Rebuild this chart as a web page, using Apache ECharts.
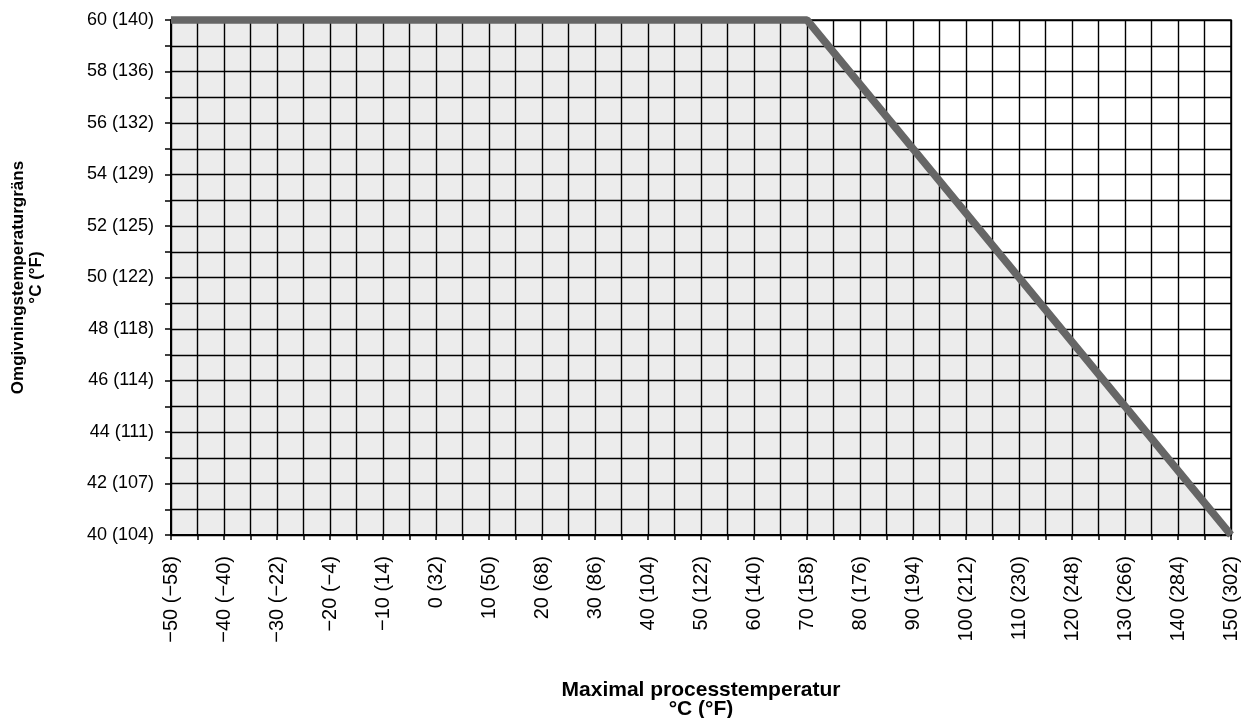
<!DOCTYPE html>
<html>
<head>
<meta charset="utf-8">
<script src="https://cdn.jsdelivr.net/npm/echarts@6/dist/echarts.min.js"></script>
<style>
html,body{margin:0;padding:0;background:#fff;}
#chart{width:1248px;height:718px;}
</style>
</head>
<body>
<div id="chart"></div>
<script>
// Data
const linePoints = [[-50, 60], [70, 60], [150, 40]];
const xLabelsC = [-50, -40, -30, -20, -10, 0, 10, 20, 30, 40, 50, 60, 70, 80, 90, 100, 110, 120, 130, 140, 150];
const xLabelsF = [-58, -40, -22, -4, 14, 32, 50, 68, 86, 104, 122, 140, 158, 176, 194, 212, 230, 248, 266, 284, 302];
const yLabelsC = [40, 42, 44, 46, 48, 50, 52, 54, 56, 58, 60];
const yLabelsF = [104, 107, 111, 114, 118, 122, 125, 129, 132, 136, 140];
const xTitle = 'Maximal processtemperatur\n°C (°F)';
const yTitle = 'Omgivningstemperaturgräns\n°C (°F)';

const fmt = n => String(n).replace('-', '\u2212');
const FONT = '"Liberation Sans", Arial, Helvetica, sans-serif';

const chart = echarts.init(document.getElementById('chart'), null, {renderer: 'canvas'});
chart.setOption({
  animation: false,
  backgroundColor: '#fff',
  grid: {
    left: 171, right: 17, top: 20, bottom: 183,
    outerBoundsMode: 'none', containLabel: false,
    show: true, borderColor: '#000', borderWidth: 1.5, backgroundColor: 'transparent'
  },
  xAxis: {
    type: 'value', min: -50, max: 150, interval: 5,
    name: xTitle, nameLocation: 'middle', nameGap: 146,
    nameTextStyle: {fontFamily: FONT, fontWeight: 'bold', fontSize: 21, color: '#000', lineHeight: 19},
    axisLine: {show: true, onZero: false, lineStyle: {color: '#000', width: 2}},
    axisTick: {show: true, length: 5, lineStyle: {color: '#000', width: 1.5}},
    splitLine: {show: true, lineStyle: {color: '#000', width: 1.4}},
    axisLabel: {
      rotate: 90, margin: 21, fontFamily: FONT, fontSize: 20, color: '#000',
      formatter: v => { const i = xLabelsC.indexOf(v); return i < 0 ? '' : fmt(xLabelsC[i]) + ' (' + fmt(xLabelsF[i]) + ')'; }
    }
  },
  yAxis: {
    type: 'value', min: 40, max: 60, interval: 1,
    name: yTitle, nameLocation: 'middle', nameGap: 126,
    nameTextStyle: {fontFamily: FONT, fontWeight: 'bold', fontSize: 17, color: '#000', lineHeight: 18},
    axisLine: {show: true, onZero: false, lineStyle: {color: '#000', width: 2}},
    axisTick: {show: true, length: 6, lineStyle: {color: '#000', width: 1.5}},
    splitLine: {show: true, lineStyle: {color: '#000', width: 1.4}},
    axisLabel: {
      margin: 17, fontFamily: FONT, fontSize: 18, color: '#000',
      formatter: v => { const i = yLabelsC.indexOf(v); return i < 0 ? '' : fmt(yLabelsC[i]) + ' (' + fmt(yLabelsF[i]) + ')'; }
    }
  },
  series: [{
    type: 'line',
    data: linePoints,
    symbol: 'none',
    clip: false,
    lineStyle: {color: '#666666', width: 7.5},
    areaStyle: {color: 'rgba(0,0,0,0.105)', origin: 'start'},
    z: 5
  }]
});
</script>
</body>
</html>
